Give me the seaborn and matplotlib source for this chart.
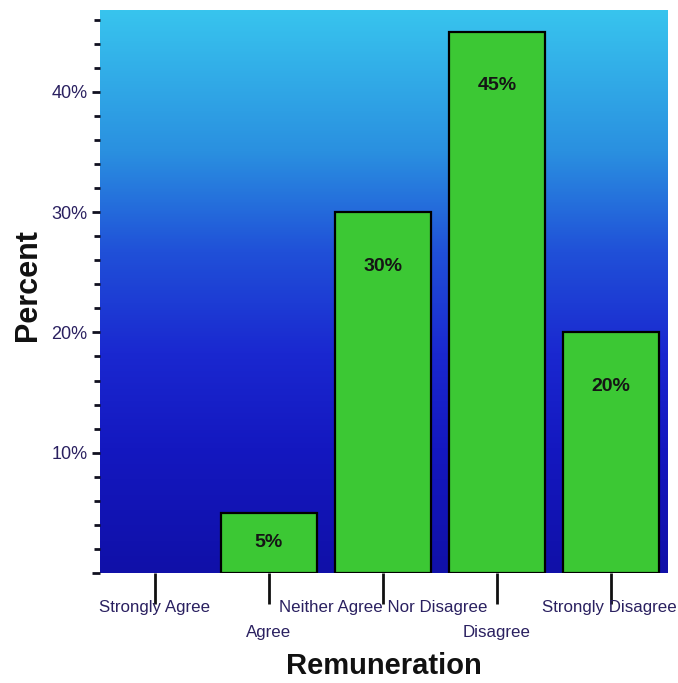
import numpy as np
import pandas as pd
import matplotlib
matplotlib.use("Agg")
import matplotlib.pyplot as plt
from matplotlib.colors import LinearSegmentedColormap
from matplotlib.ticker import MultipleLocator, FuncFormatter
import seaborn as sns

categories = ["Strongly Agree", "Agree", "Neither Agree Nor Disagree", "Disagree", "Strongly Disagree"]
percents = [0, 5, 30, 45, 20]
labels = ["", "5%", "30%", "45%", "20%"]

sns.set_style("white")
plt.rcParams['font.family'] = ['Liberation Sans', 'DejaVu Sans']

fig = plt.figure(figsize=(6.78, 6.83), dpi=100)
ax = fig.add_axes([100/678, 1-573/683, 568/678, 563/683])

df = pd.DataFrame({"cat": categories, "pct": percents})

# background gradient (bottom -> top)
cmap = LinearSegmentedColormap.from_list(
    "bg", [(0.0, "#1010a8"), (0.22, "#1418c0"), (0.39, "#1a28d0"),
           (0.57, "#2050d8"), (0.75, "#2a90e0"), (1.0, "#38c4ee")])
grad = np.linspace(0, 1, 256).reshape(-1, 1)
ax.imshow(grad, aspect="auto", cmap=cmap, origin="lower",
          extent=[-0.48, 4.5, 0, 46.8], zorder=0)

sns.barplot(data=df, x="cat", y="pct", color="#3cc834", saturation=1,
            edgecolor="black", linewidth=1.6, width=0.84, ax=ax, zorder=2)
for p in ax.patches:
    if p.get_height() == 0:
        p.set_visible(False)

for i, (v, t) in enumerate(zip(percents, labels)):
    if t:
        y = max(v - 4.5, v / 2)
        ax.text(i, y, t, ha="center", va="center", fontsize=14, fontweight="bold",
                color="#151515", zorder=3)

ax.set_xlim(-0.48, 4.5)
ax.set_ylim(0, 46.8)
for s in ax.spines.values():
    s.set_visible(False)

ax.yaxis.set_major_locator(MultipleLocator(10))
ax.yaxis.set_minor_locator(MultipleLocator(2))
ax.yaxis.set_major_formatter(FuncFormatter(lambda v, p: "" if v == 0 else f"{int(v)}%"))
ax.tick_params(axis="y", which="major", left=True, length=6, width=2, color="#101020",
               labelsize=13, labelcolor="#2a2060", pad=3)
ax.tick_params(axis="y", which="minor", left=True, length=4, width=2, color="#101020")

ax.set_xticks(range(5))
ax.set_xticklabels([])
ax.tick_params(axis="x", which="major", bottom=True, length=22, width=2, color="#101010")
for i, c in enumerate(categories):
    ax.annotate(c, xy=(i, 0), xycoords=("data", "axes fraction"),
                xytext=(-2 if i == 4 else 0, -27 if i % 2 == 0 else -52),
                textcoords="offset pixels",
                ha="center", va="top", fontsize=12.2, color="#2a2060")

ax.set_xlabel("")
ax.set_ylabel("")
fig.text(28/678, 1-285/683, "Percent", rotation=90, ha="center", va="center",
         fontsize=22, fontweight="bold", color="#111111")
fig.text(384/678, 1-666/683, "Remuneration", ha="center", va="center",
         fontsize=21, fontweight="bold", color="#111111")

fig.savefig("out.png", dpi=100)
